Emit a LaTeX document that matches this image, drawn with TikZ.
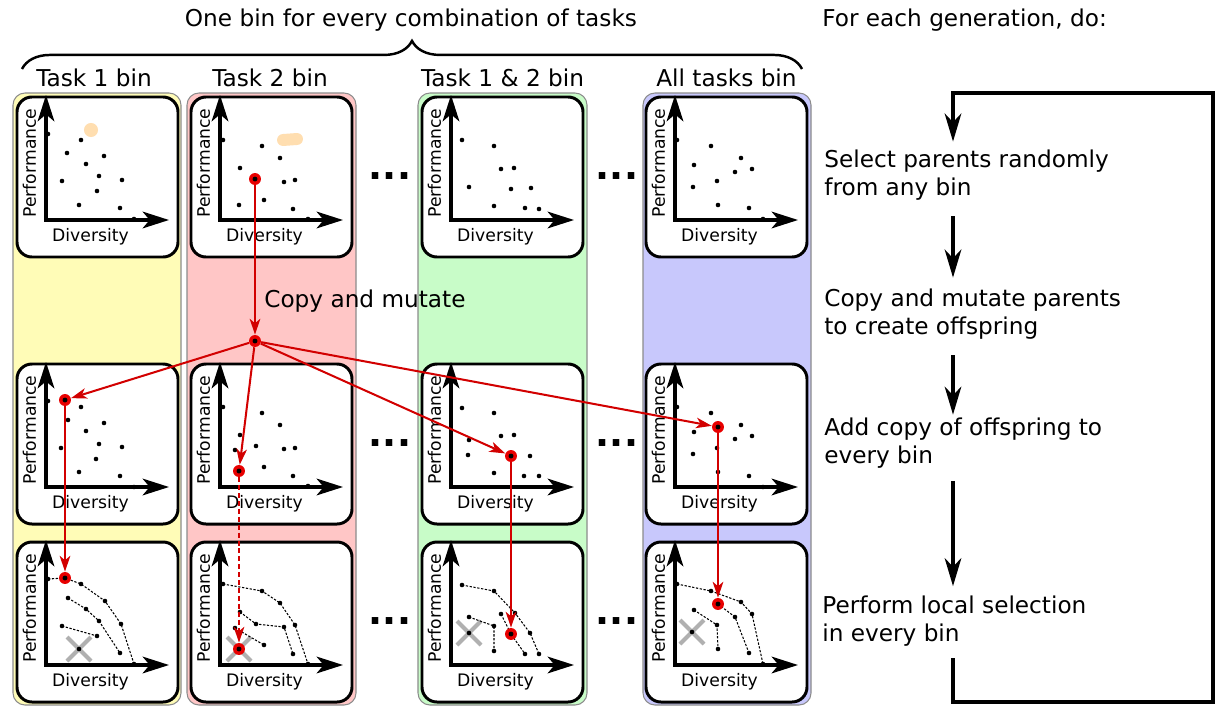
\documentclass[tikz,border=0pt]{standalone}
\usepackage{fontspec}
\setmainfont{DejaVu Sans}
\usetikzlibrary{arrows.meta, decorations.pathreplacing}

\definecolor{binyellow}{RGB}{255,252,183}
\definecolor{binpink}{RGB}{255,198,198}
\definecolor{bingreen}{RGB}{200,252,200}
\definecolor{binblue}{RGB}{200,200,252}
\definecolor{binedge}{RGB}{140,140,140}
\definecolor{blobcol}{RGB}{255,222,176}
\definecolor{crossgray}{RGB}{176,176,176}
\definecolor{hitred}{RGB}{232,0,0}
\definecolor{arrowred}{RGB}{210,0,0}

\begin{document}
\begin{tikzpicture}[x=0.02cm, y=-0.02cm,
    every node/.style={inner sep=0pt},
    bin/.style={draw=binedge, line width=0.6pt, rounded corners=6.8pt},
    panel/.style={draw, fill=white, line width=1.7pt, rounded corners=8.5pt},
    axis/.style={line width=1.8pt, >={Stealth[length=15pt,width=9.5pt,inset=4pt]}, <->},
    axlabel/.style={font=\fontsize{9.8}{11}\selectfont},
    maintext/.style={font=\fontsize{13.2}{16.1}\selectfont},
    binlabel/.style={maintext, anchor=base},
    steptext/.style={maintext, align=left, anchor=west},
    gap/.style={font=\fontsize{21}{21}\selectfont\bfseries, anchor=base},
    hit/.style={circle, fill=hitred, minimum size=6.8pt,
        path picture={\fill[black] (path picture bounding box.center) circle[radius=1.4pt];}},
    front/.style={line width=0.6pt, dash pattern=on 1.3pt off 0.9pt},
    cross/.style={draw=crossgray, line width=2.3pt},
    redarrow/.style={draw=arrowred, line width=1.15pt, -{Stealth[length=9pt,width=6pt,inset=2.5pt]}},
    steparrow/.style={line width=1.8pt, -{Stealth[length=16pt,width=9.5pt,inset=5pt]}},
    brace/.style={decorate, decoration={brace, amplitude=16pt}, line width=1.4pt},
    plotaxes/.pic={
        \draw[axis] (29,-2) -- (29,123) -- (152,123);
        \node[axlabel, rotate=90] at (12.5,66) {Performance};
        \node[axlabel] at (73.5,140) {Diversity};
    }]
    \useasboundingbox (0,0) rectangle (1215,714);

    % bins
    \draw[bin, fill=binyellow] (13,93) rectangle (181,705);
    \draw[bin, fill=binpink] (187,93) rectangle (356,705);
    \draw[bin, fill=bingreen] (418,93) rectangle (587,705);
    \draw[bin, fill=binblue] (643,93) rectangle (811,705);

    % header
    \node[maintext, anchor=base] (title) at (411,26.5) {One bin for every combination of tasks};
    \node[maintext, anchor=base west] (gen) at (822,26.5) {For each generation, do:};
    \coordinate (bl) at (22,69);
    \coordinate (br) at (802,69);
    \draw[brace] (bl) -- (br);
    \node[binlabel] (lab1) at (94,86.5) {Task 1 bin};
    \node[binlabel] (lab2) at (270,86.5) {Task 2 bin};
    \node[binlabel] (lab3) at (502.5,86.5) {Task 1 \& 2 bin};
    \node[binlabel] (lab4) at (726.5,86.5) {All tasks bin};

    % panels
    \coordinate (p11) at (17,97);  \coordinate (p12) at (191,97);
    \coordinate (p13) at (422,97); \coordinate (p14) at (646,97);
    \coordinate (p21) at (17,364);  \coordinate (p22) at (191,364);
    \coordinate (p23) at (422,364); \coordinate (p24) at (646,364);
    \coordinate (p31) at (17,542);  \coordinate (p32) at (191,542);
    \coordinate (p33) at (422,542); \coordinate (p34) at (646,542);
    \foreach \p in {p11,p12,p13,p14,p21,p22,p23,p24,p31,p32,p33,p34} {
        \draw[panel] (\p) rectangle +(161,160);
        \pic at (\p) {plotaxes};
    }

    % row 1
    \begin{scope}[shift={(p11)}]
        \fill[blobcol] (74,33) circle[radius=4pt];
        \foreach \q in {(31,37),(64,43),(50,56),(87,59),(69,67),(82,79),(45,84),(105,83),(80,94),(62,108),(103,111),(117,122)}
            \fill \q circle[radius=1.3pt];
    \end{scope}
    \begin{scope}[shift={(p12)}]
        \draw[blobcol, line width=6.8pt, line cap=round] (92,43) -- (106,42);
        \foreach \q in {(32,43),(71,49),(89,61),(49,71),(93,85),(104,83),(73,103),(48,108),(102,112),(117,122)}
            \fill \q circle[radius=1.3pt];
        \node[hit] (r12) at (64,82) {};
    \end{scope}
    \begin{scope}[shift={(p13)}]
        \foreach \q in {(40,43),(72,49),(79,72),(92,71),(47,90),(89,92),(109,91),(72,109),(103,111),(117,112)}
            \fill \q circle[radius=1.3pt];
    \end{scope}
    \begin{scope}[shift={(p14)}]
        \foreach \q in {(31,43),(65,49),(95,61),(48,68),(106,72),(89,75),(71,84),(47,90),(72,108),(103,111),(117,122)}
            \fill \q circle[radius=1.3pt];
    \end{scope}

    % row 2
    \begin{scope}[shift={(p21)}]
        \foreach \q in {(31,37),(64,43),(51,56),(87,59),(69,67),(82,80),(44,84),(105,83),(79,95),(62,108),(103,112),(117,123)}
            \fill \q circle[radius=1.3pt];
        \node[hit] (r21) at (48,36) {};
    \end{scope}
    \begin{scope}[shift={(p22)}]
        \foreach \q in {(32,43),(71,49),(89,61),(49,71),(44,86),(65,82),(93,85),(104,84),(73,103),(102,112),(117,122)}
            \fill \q circle[radius=1.3pt];
        \node[hit] (r22) at (48,107) {};
    \end{scope}
    \begin{scope}[shift={(p23)}]
        \foreach \q in {(40,44),(72,49),(79,72),(92,71),(47,76),(46,91),(108,92),(72,109),(102,112),(117,112)}
            \fill \q circle[radius=1.3pt];
        \node[hit] (r23) at (89,92) {};
    \end{scope}
    \begin{scope}[shift={(p24)}]
        \foreach \q in {(31,43),(65,49),(95,61),(48,68),(106,72),(89,75),(71,84),(47,90),(72,108),(103,112),(117,123)}
            \fill \q circle[radius=1.3pt];
        \node[hit] (r24) at (72,63) {};
    \end{scope}

    % row 3: fronts after local selection
    \begin{scope}[shift={(p31)}]
        \draw[cross] (62,107) +(-12,-12) -- +(12,12) +(-12,12) -- +(12,-12);
        \draw[front] (31,37) -- (48,36) -- (64,42) -- (88,59) -- (104,82) -- (117,122);
        \draw[front] (51,56) -- (69,67) -- (82,79) -- (103,111);
        \draw[front] (45,84) -- (80,94);
        \foreach \q in {(31,37),(64,42),(88,59),(104,82),(117,122),(51,56),(69,67),(82,79),(103,111),(45,84),(80,94),(62,107)}
            \fill \q circle[radius=1.3pt];
        \node[hit] (r31) at (48,36) {};
    \end{scope}
    \begin{scope}[shift={(p32)}]
        \draw[cross] (48,107) +(-12,-12) -- +(12,12) +(-12,12) -- +(12,-12);
        \draw[front] (32,42) -- (71,49) -- (89,61) -- (104,83) -- (117,122);
        \draw[front] (49,70) -- (65,82) -- (93,85) -- (102,112);
        \draw[front] (44,86) -- (73,103);
        \foreach \q in {(32,42),(71,49),(89,61),(104,83),(117,122),(49,70),(65,82),(93,85),(102,112),(44,86),(73,103)}
            \fill \q circle[radius=1.3pt];
        \node[hit] (r32) at (48,107) {};
    \end{scope}
    \begin{scope}[shift={(p33)}]
        \draw[cross] (47,91) +(-12,-12) -- +(12,12) +(-12,12) -- +(12,-12);
        \draw[front] (40,43) -- (72,49) -- (93,71) -- (108,91) -- (117,112);
        \draw[front] (79,72) -- (89,92) -- (103,112);
        \draw[front] (47,75) -- (72,84) -- (72,109);
        \foreach \q in {(40,43),(72,49),(93,71),(108,91),(117,112),(79,72),(103,112),(47,75),(72,84),(72,109),(47,91)}
            \fill \q circle[radius=1.3pt];
        \node[hit] (r33) at (89,92) {};
    \end{scope}
    \begin{scope}[shift={(p34)}]
        \draw[cross] (46,90) +(-12,-12) -- +(12,12) +(-12,12) -- +(12,-12);
        \draw[front] (31,42) -- (65,49) -- (95,60) -- (106,72) -- (117,122);
        \draw[front] (72,62) -- (89,75) -- (103,111);
        \draw[front] (48,68) -- (71,83) -- (72,107);
        \foreach \q in {(31,42),(65,49),(95,60),(106,72),(117,122),(89,75),(103,111),(48,68),(71,83),(72,107),(46,90)}
            \fill \q circle[radius=1.3pt];
        \node[hit] (r34) at (72,62) {};
    \end{scope}

    % gaps between bins
    \foreach \y [count=\i] in {179,446,624} {
        \node[gap] (ga\i) at (390,\y) {...};
        \node[gap] (gb\i) at (617,\y) {...};
    }

    % copy and mutate
    \node[hit] (cp) at (255,341) {};
    \node[steptext] (cmlabel) at (264,301) {Copy and mutate};
    \draw[redarrow] (r12) -- (cp);
    \foreach \t in {r21,r22,r23,r24}
        \draw[redarrow] (cp) -- (\t);
    \draw[redarrow] (r21) -- (r31);
    \draw[redarrow, dash pattern=on 2.8pt off 1.7pt] (r22) -- (r32);
    \draw[redarrow] (r23) -- (r33);
    \draw[redarrow] (r24) -- (r34);

    % steps on the right
    \node[steptext] (sel) at (824,175) {Select parents randomly\\from any bin};
    \node[steptext] (mut) at (824,314) {Copy and mutate parents\\to create offspring};
    \node[steptext] (add) at (824,443) {Add copy of offspring to\\every bin};
    \node[steptext] (loc) at (822,621) {Perform local selection\\in every bin};
    \coordinate (loopx) at (953,93);
    \coordinate (looptr) at (1213,93);
    \coordinate (loopbr) at (1213,702);
    \draw[steparrow, shorten <=8.8pt, shorten >=6.1pt] (sel.south -| loopx) -- (mut.north -| loopx);
    \draw[steparrow, shorten <=8.7pt, shorten >=1.5pt] (mut.south -| loopx) -- (add.north -| loopx);
    \draw[steparrow, shorten <=6.9pt, shorten >=5.2pt] (add.south -| loopx) -- (loc.north -| loopx);
    \draw[steparrow, shorten <=6.5pt, shorten >=4.4pt] (loc.south -| loopx) |- (loopbr) -- (looptr) -| (sel.north -| loopx);
\end{tikzpicture}
\end{document}
